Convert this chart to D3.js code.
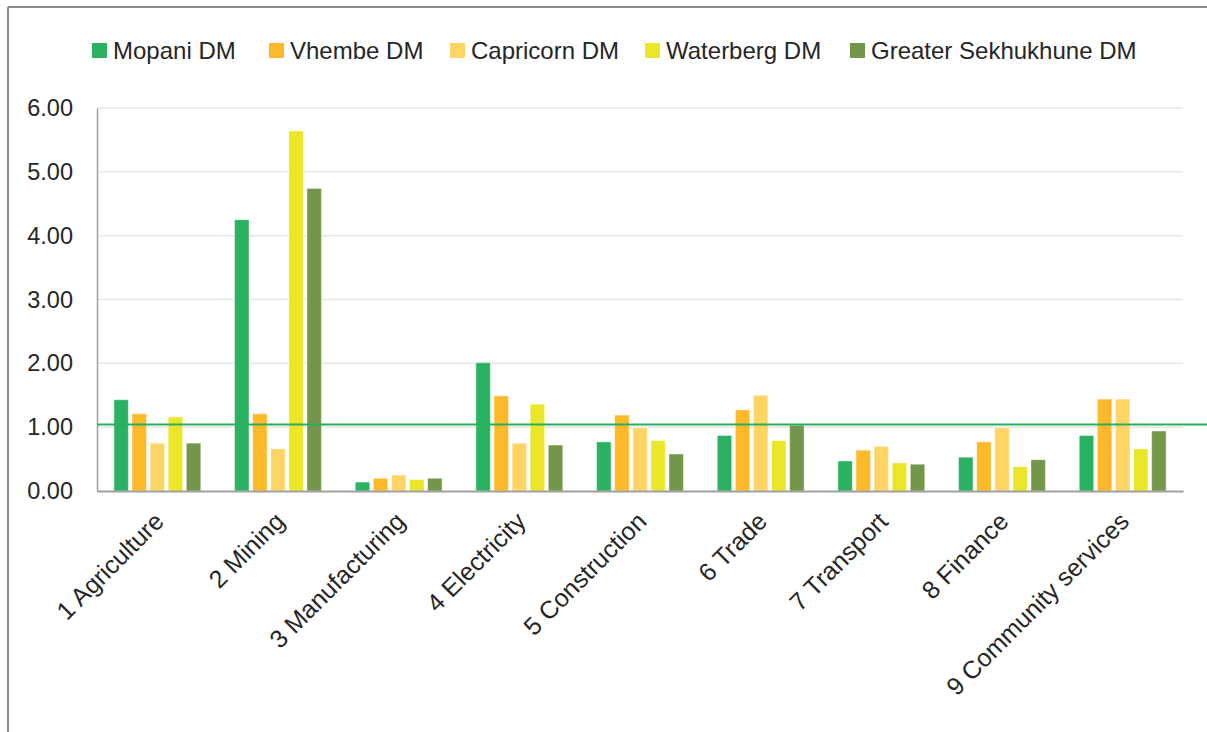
<!DOCTYPE html>
<html>
<head>
<meta charset="utf-8">
<script src="https://cdn.jsdelivr.net/npm/d3@7"></script>
<style>
  html, body { margin: 0; padding: 0; background: #fff; }
  svg { display: block; }
  text { font-family: "Liberation Sans", Arial, sans-serif; fill: #262626; }
</style>
</head>
<body>
<svg id="chart" width="1207" height="732"></svg>
<script>
const categories = ["1 Agriculture", "2 Mining", "3 Manufacturing", "4 Electricity", "5 Construction", "6 Trade", "7 Transport", "8 Finance", "9 Community services"];
const seriesNames = ["Mopani DM", "Vhembe DM", "Capricorn DM", "Waterberg DM", "Greater Sekhukhune DM"];
const mopani    = [1.43, 4.25, 0.14, 2.01, 0.77, 0.87, 0.47, 0.53, 0.87];
const vhembe    = [1.21, 1.21, 0.20, 1.49, 1.19, 1.27, 0.64, 0.77, 1.44];
const capricorn = [0.75, 0.66, 0.25, 0.75, 0.99, 1.50, 0.70, 0.99, 1.44];
const waterberg = [1.16, 5.64, 0.18, 1.36, 0.79, 0.79, 0.44, 0.38, 0.66];
const sekhukhune= [0.75, 4.74, 0.20, 0.72, 0.58, 1.03, 0.42, 0.49, 0.94];
const yTicks = [0, 1, 2, 3, 4, 5, 6];
const referenceValue = 1.04;
const colors = ["#2ab262", "#fdb92a", "#fed565", "#ece628", "#74964a"];

const seriesValues = [mopani, vhembe, capricorn, waterberg, sekhukhune];
const rows = categories.map((c, i) => ({ category: c, values: seriesNames.map((s, j) => ({ series: s, value: seriesValues[j][i], color: colors[j] })) }));

const svg = d3.select("#chart");
const margin = { left: 97, right: 24, top: 108, bottom: 241 };
const W = 1207, H = 732;
const innerW = W - margin.left - margin.right;
const innerH = H - margin.top - margin.bottom;

// Outer border (top and left)
svg.append("line").attr("x1", 8).attr("x2", W).attr("y1", 7).attr("y2", 7).attr("stroke", "#8c8c8c").attr("stroke-width", 2);
svg.append("line").attr("x1", 8).attr("x2", 8).attr("y1", 7).attr("y2", H).attr("stroke", "#8c8c8c").attr("stroke-width", 2);

const g = svg.append("g").attr("transform", `translate(${margin.left},${margin.top})`);

const y = d3.scaleLinear().domain([0, 6]).range([innerH, 0]);
const x0 = d3.scaleBand().domain(categories).range([0, innerW]).paddingInner(0.25).paddingOuter(0.125);
const x1 = d3.scaleBand().domain(seriesNames).range([0, x0.bandwidth()]).paddingInner(0.2).paddingOuter(0.1);

// Gridlines
g.append("g").selectAll("line").data(yTicks.filter(t => t > 0)).join("line")
  .attr("x1", 0).attr("x2", innerW)
  .attr("y1", d => y(d)).attr("y2", d => y(d))
  .attr("stroke", "#e6e6e6").attr("stroke-width", 1.5);

// Y axis
const yAxis = g.append("g").call(d3.axisLeft(y).tickValues(yTicks).tickFormat(d3.format(".2f")).tickSize(0).tickPadding(24));
yAxis.select(".domain").attr("stroke", "#a0a0a0").attr("stroke-width", 1.5);
yAxis.selectAll("text").style("font-size", "23.5px").attr("fill", "#262626");

// Bars
const groups = g.append("g").selectAll("g").data(rows).join("g")
  .attr("transform", d => `translate(${x0(d.category)},0)`);
groups.selectAll("rect").data(d => d.values).join("rect")
  .attr("x", d => x1(d.series))
  .attr("width", x1.bandwidth())
  .attr("y", d => y(d.value))
  .attr("height", d => y(0) - y(d.value))
  .attr("fill", d => d.color)
  .attr("stroke", "#ffffff").attr("stroke-opacity", 0.45).attr("stroke-width", 1);

// X axis
const xAxis = g.append("g").attr("transform", `translate(0,${innerH})`)
  .call(d3.axisBottom(x0).tickSize(0).tickSizeOuter(0));
xAxis.select(".domain").attr("stroke", "#a0a0a0").attr("stroke-width", 2);
xAxis.selectAll("text")
  .style("font-size", "25px").attr("fill", "#262626")
  .attr("text-anchor", "end")
  .attr("dy", null).attr("y", 0)
  .attr("transform", "translate(8,32) rotate(-45)");

// Reference line
svg.append("line")
  .attr("x1", margin.left).attr("x2", W)
  .attr("y1", margin.top + y(referenceValue)).attr("y2", margin.top + y(referenceValue))
  .attr("stroke", "#26b05c").attr("stroke-width", 2);

// Legend
const legendX = [92, 269, 450, 645, 850];
const legend = svg.append("g").selectAll("g").data(seriesNames).join("g")
  .attr("transform", (d, i) => `translate(${legendX[i]},43)`);
legend.append("rect").attr("width", 15).attr("height", 15).attr("fill", (d, i) => colors[i]);
legend.append("text").attr("x", 21).attr("y", 16).style("font-size", "24px").attr("fill", "#262626").text(d => d);
</script>
</body>
</html>
